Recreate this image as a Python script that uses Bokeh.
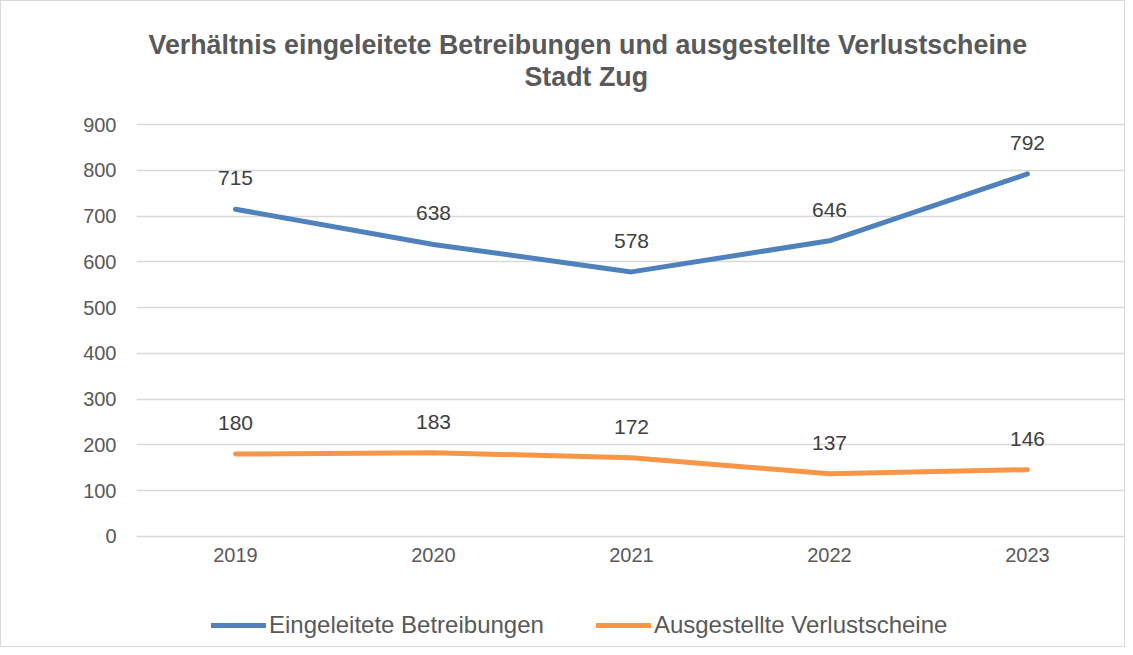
from bokeh.plotting import figure
from bokeh.models import ColumnDataSource, FactorRange, Range1d, LabelSet, Title, Legend, LegendItem, FixedTicker
from bokeh.core.properties import value
from bokeh.embed import file_html
from bokeh.resources import INLINE

years = ["2019", "2020", "2021", "2022", "2023"]
betreibungen = [715, 638, 578, 646, 792]
verlustscheine = [180, 183, 172, 137, 146]
y_ticks = [0, 100, 200, 300, 400, 500, 600, 700, 800, 900]
title_line1 = "Verhältnis eingeleitete Betreibungen und ausgestellte Verlustscheine"
title_line2 = "Stadt Zug"
name_b = "Eingeleitete Betreibungen"
name_v = "Ausgestellte Verlustscheine"

BLUE = "#4F81BD"
ORANGE = "#F79646"
TXT = "#595959"
LBL = "#404040"
GRID = "#D9D9D9"
FONT = "Liberation Sans"

src_b = ColumnDataSource(dict(x=years, y=betreibungen, t=[str(v) for v in betreibungen]))
src_v = ColumnDataSource(dict(x=years, y=verlustscheine, t=[str(v) for v in verlustscheine]))

# frame spans from below the title down to the figure bottom, so the legend fits inside it
p = figure(width=1125, height=647, x_range=FactorRange(*years), y_range=Range1d(-244.7, 972.1),
           output_backend="svg", toolbar_location=None, title=None,
           min_border_left=135, min_border_right=0, min_border_top=90, min_border_bottom=0)
p.outline_line_color = None
p.background_fill_color = "white"
p.border_fill_color = "white"
p.styles = {"border": "1px solid #D9D9D9"}

p.xgrid.grid_line_color = None
p.ygrid.grid_line_color = GRID
p.ygrid.grid_line_width = 1.3
p.yaxis.ticker = FixedTicker(ticks=y_ticks)
p.xaxis.fixed_location = 0

for ax in (p.xaxis[0], p.yaxis[0]):
    ax.axis_line_color = None
    ax.major_tick_line_color = None
    ax.minor_tick_line_color = None
    ax.major_tick_out = 0
    ax.minor_tick_out = 0
    ax.major_label_text_font = FONT
    ax.major_label_text_font_size = "20px"
    ax.major_label_text_color = TXT
p.yaxis.major_label_standoff = 20
p.xaxis.major_label_standoff = 12

r_b = p.line("x", "y", source=src_b, line_color=BLUE, line_width=5, line_cap="round", line_join="round")
r_v = p.line("x", "y", source=src_v, line_color=ORANGE, line_width=5, line_cap="round", line_join="round")

for s in (src_b, src_v):
    p.add_layout(LabelSet(x="x", y="y", text="t", source=s, y_offset=31, text_align="center",
                          text_baseline="middle", text_font=value(FONT), text_font_size=value("21px"),
                          text_color=LBL))

p.add_layout(Title(text=title_line2, align="left", offset=388, standoff=0, text_font=FONT,
                   text_font_size="26.8px", text_font_style="bold", text_color=TXT), "above")
p.add_layout(Title(text=title_line1, align="left", offset=12, standoff=0, text_font=FONT,
                   text_font_size="26.8px", text_font_style="bold", text_color=TXT), "above")

legend = Legend(items=[LegendItem(label=name_b, renderers=[r_b]),
                       LegendItem(label=name_v, renderers=[r_v])],
                orientation="horizontal", location=(75, 9),
                padding=0, margin=0, spacing=52, label_standoff=3,
                glyph_width=55, glyph_height=24, label_height=24,
                border_line_color=None, background_fill_alpha=0,
                label_text_font=FONT, label_text_font_size="24px",
                label_text_color=TXT)
p.add_layout(legend, "center")

open("out.html", "w").write(file_html(p, INLINE))
